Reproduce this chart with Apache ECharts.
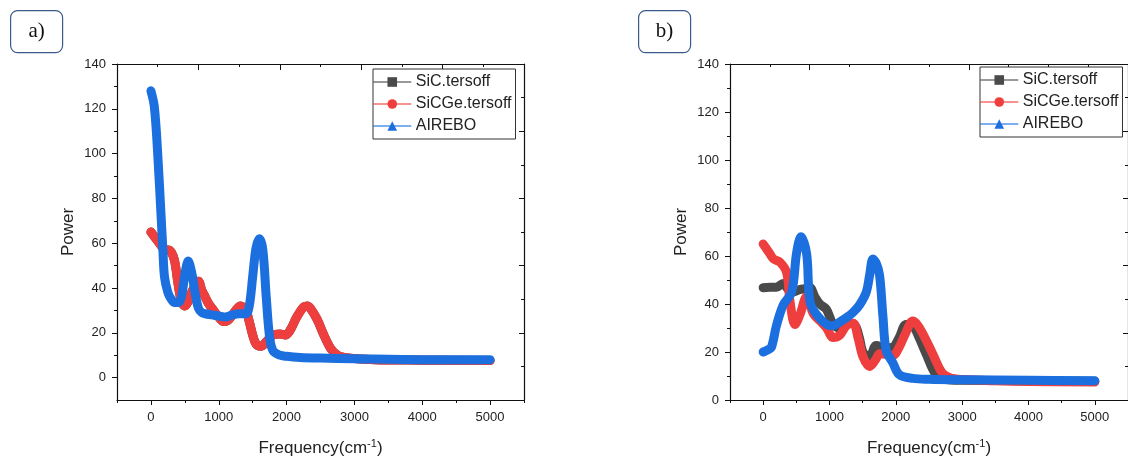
<!DOCTYPE html>
<html>
<head>
<meta charset="utf-8">
<script src="https://cdn.jsdelivr.net/npm/echarts@6/dist/echarts.min.js"></script>
<style>
  html, body { margin: 0; padding: 0; background: #fff; }
  #main { width: 1128px; height: 463px; }
</style>
</head>
<body>
<div id="main"></div>
<script>
// ---- data ----
var seriesNames = ['SiC.tersoff', 'SiCGe.tersoff', 'AIREBO'];
var xTickLabels = [0, 1000, 2000, 3000, 4000, 5000];
var yTickLabels = [0, 20, 40, 60, 80, 100, 120, 140];

// panel a)
var aRedFreq = [0,50,100,150,200,250,300,350,400,450,500,550,600,650,700,750,800,850,900,1000,1075,1150,1250,1320,1400,1450,1500,1550,1620,1700,1800,1900,1980,2050,2150,2250,2300,2350,2450,2550,2650,2750,2850,3000,3300,4000,5000];
var aRedPower = [65,63,61,59,57,57,56,52,42,34,32,34,38,41,43,39,36,33,31,27,25,26,30,32,30,25,19,15,14,16,19,19.5,19,21,27,31.5,32,31,26,19,13,10,9,8.5,8,7.8,7.6];
// SiC.tersoff is hidden under SiCGe.tersoff in panel a
var aSiCFreq = aRedFreq;
var aSiCPower = [65,63,61,59,57,57,56,52,42,34,32,34,38,41,43,39,36,33,31,27,25,26,30,32,30,25,19,15,14,16,19,19.5,19,21,27,31.5,32,31,26,19,13,10,9,8.5,8,7.8,7.6];
var aBlueFreq = [0,50,100,150,175,200,250,300,350,400,450,500,550,600,650,700,750,800,900,1000,1100,1200,1300,1400,1450,1500,1550,1600,1650,1700,1750,1800,1900,2000,2200,2500,3000,4000,5000];
var aBluePower = [128,121,100,72,58,45,38,35,33.5,33.5,36,46,52,47,38,31,29,28.5,28,27.5,27,28,28.5,28.5,32,45,58,62,57,36,18,12,10,9.5,9,8.7,8.4,8,8];

// panel b)
var bSiCFreq = [0,100,200,300,380,450,550,655,700,780,855,955,1055,1155,1255,1380,1450,1505,1605,1705,1855,1950,2050,2155,2255,2350,2455,2605,2750,3000,4000,5000];
var bSiCPower = [46.8,47,47,48.5,46,45,46,46.5,47,43,40,37.7,31.5,30,32,31.3,26,20,18,22.7,21.8,22,26,31.5,30.9,26,19.3,10.5,8.5,8.2,8,7.8];
var bRedFreq = [0,100,155,255,355,405,480,555,655,755,855,955,1055,1155,1255,1355,1430,1505,1605,1700,1755,1850,1955,2050,2150,2255,2305,2400,2555,2705,2850,3000,3500,4000,5000];
var bRedPower = [65,61,58.8,57.4,53,41,31.5,35.6,43,36,33,30,26,27,31,32,26,18,14,17,19.3,19,18.6,22,28,32.9,32,28,19.3,11.1,9,8.5,8,7.7,7.5];
var bBlueFreq = [0,75,125,205,305,430,505,570,655,705,805,955,1055,1155,1255,1355,1455,1555,1605,1655,1705,1755,1805,1855,1955,2055,2255,2500,3000,4000,5000];
var bBluePower = [20,21,22,31.5,39.7,45,61.5,68,61,41,35.6,31.5,30.9,32.5,34.3,36.5,39.7,45,52,58.8,57,52,35,20.6,15.5,10.5,9,8.6,8.4,8.2,8];

var colors = ['#4a4a4a', '#ef3e3e', '#1b6fdf'];
var symbols = ['rect', 'circle', 'triangle'];

function pairs(xs, ys) {
  return xs.map(function (x, i) { return [x, ys[i]]; });
}
function range(a, b, step) {
  var out = [];
  for (var v = a; v <= b + 1e-9; v += step) out.push(v);
  return out;
}

var font = 'Liberation Sans, Arial, sans-serif';
var axisLine = { show: true, onZero: false, lineStyle: { color: '#111', width: 1.2 } };
var noLine = { show: false, onZero: false };
var plain = function (v) { return String(v); };

function panelAxes(gi, yMin) {
  var xs = [
    { // main bottom axis
      type: 'value', gridIndex: gi, min: -500, max: 5500, interval: 500, position: 'bottom',
      axisLine: axisLine, splitLine: { show: false },
      axisTick: { show: true, inside: false, length: 5, customValues: range(0, 5000, 1000), lineStyle: { color: '#111' } },
      axisLabel: { customValues: xTickLabels, formatter: plain, color: '#222', fontSize: 13, fontFamily: font, margin: 11 },
      name: 'Frequency(cm{sup|-1})', nameLocation: 'middle', nameGap: 38,
      nameTextStyle: { color: '#222', fontSize: 17, fontFamily: font, lineHeight: 20,
        rich: { sup: { fontSize: 11, fontFamily: font, color: '#222', verticalAlign: 'top', lineHeight: 12 } } }
    },
    { // minor ticks bottom
      type: 'value', gridIndex: gi, min: -500, max: 5500, interval: 500, position: 'bottom',
      axisLine: noLine, splitLine: { show: false }, axisLabel: { show: false },
      axisTick: { show: true, inside: false, length: 3, customValues: range(-500, 5500, 1000), lineStyle: { color: '#111' } }
    },
    { // top frame axis
      type: 'value', gridIndex: gi, min: 0, max: 10, interval: 2, position: 'top',
      axisLine: axisLine, splitLine: { show: false }, axisLabel: { show: false },
      axisTick: { show: true, inside: true, length: 6, lineStyle: { color: '#111' } },
      minorTick: { show: true, splitNumber: 2, length: 3, lineStyle: { color: '#111' } }
    }
  ];
  var ys = [
    { // main left axis
      type: 'value', gridIndex: gi, min: yMin, max: 140, interval: 10, position: 'left',
      axisLine: axisLine, splitLine: { show: false },
      axisTick: { show: true, inside: false, length: 5, customValues: yTickLabels, lineStyle: { color: '#111' } },
      axisLabel: { customValues: yTickLabels, formatter: plain, color: '#222', fontSize: 13, fontFamily: font, margin: 11 },
      name: 'Power', nameLocation: 'middle', nameGap: 40,
      nameTextStyle: { color: '#222', fontSize: 17, fontFamily: font }
    },
    { // minor ticks left
      type: 'value', gridIndex: gi, min: yMin, max: 140, interval: 10, position: 'left',
      axisLine: noLine, splitLine: { show: false }, axisLabel: { show: false },
      axisTick: { show: true, inside: false, length: 3, customValues: range(10, 130, 20), lineStyle: { color: '#111' } }
    },
    { // right frame axis
      type: 'value', gridIndex: gi, min: 0, max: 10, interval: 2, position: 'right',
      axisLine: axisLine, splitLine: { show: false }, axisLabel: { show: false },
      axisTick: { show: true, inside: true, length: 5, lineStyle: { color: '#111' } },
      minorTick: { show: true, splitNumber: 2, length: 3, lineStyle: { color: '#111' } }
    }
  ];
  return { x: xs, y: ys };
}

function panelSeries(xi, yi, sets) {
  return sets.map(function (d, i) {
    return {
      name: seriesNames[i], type: 'line', xAxisIndex: xi, yAxisIndex: yi,
      data: pairs(d[0], d[1]), smooth: 0.35, showSymbol: false,
      symbol: symbols[i], symbolSize: 10,
      itemStyle: { color: colors[i] },
      lineStyle: { color: colors[i], width: 9, cap: 'round', join: 'round' },
      emphasis: { disabled: true }, animation: false, z: 2 + i
    };
  });
}

function legendFor(left, top) {
  return {
    orient: 'vertical', left: left, top: top,
    padding: [5, 4, 5, 0], itemGap: 6, itemWidth: 37, itemHeight: 12,
    borderColor: '#333', borderWidth: 1, borderRadius: 0, backgroundColor: '#fff',
    data: seriesNames,
    lineStyle: { width: 1.5, opacity: 0.75 },
    textStyle: { color: '#222', fontSize: 16, fontFamily: font, lineHeight: 14 },
    selectedMode: false
  };
}

var axA = panelAxes(0, -10);
var axB = panelAxes(1, 0);

function labelBox(x, y, txt) {
  return {
    type: 'group', left: x, top: y,
    children: [
      { type: 'rect', shape: { x: 0, y: 0, width: 52, height: 42, r: 7 },
        style: { fill: '#fff', stroke: '#3d5a8c', lineWidth: 1.2 } },
      { type: 'text', x: 26, y: 21,
        style: { text: txt, font: '21px "Liberation Serif", serif', fill: '#111', align: 'center', verticalAlign: 'middle' } }
    ]
  };
}

var chart = echarts.init(document.getElementById('main'), null, { renderer: 'canvas' });
var option = {
  animation: false,
  backgroundColor: '#fff',
  grid: [
    { left: 117, top: 64, width: 407, height: 343.5, containLabel: false },
    { left: 730, top: 64, width: 400, height: 343.5, containLabel: false }
  ],
  legend: [legendFor(373, 69), legendFor(980, 67)],
  xAxis: axA.x.concat(axB.x),
  yAxis: axA.y.concat(axB.y),
  series: panelSeries(0, 0, [[aSiCFreq, aSiCPower], [aRedFreq, aRedPower], [aBlueFreq, aBluePower]])
    .concat(panelSeries(3, 3, [[bSiCFreq, bSiCPower], [bRedFreq, bRedPower], [bBlueFreq, bBluePower]])),
  graphic: [labelBox(10, 10, 'a)'), labelBox(638, 10, 'b)')]
};
chart.setOption(option);
</script>
</body>
</html>
